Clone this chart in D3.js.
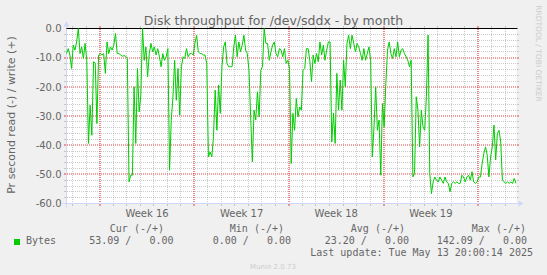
<!DOCTYPE html>
<html>
<head>
<meta charset="utf-8">
<script src="https://cdn.jsdelivr.net/npm/d3@7"></script>
<style>
  html, body { margin: 0; padding: 0; background: #f0f0f0; }
  svg { display: block; }
  text { font-family: "DejaVu Sans", sans-serif; fill: #666666; }
  .mono { font-family: "DejaVu Sans Mono", monospace; white-space: pre; }
</style>
</head>
<body>
<div id="chart"></div>
<script>
// time span of the graph (munin "by month")
const startTime = new Date(2025, 3, 10, 13, 0, 14)
const endTime = new Date(2025, 4, 13, 20, 0, 14)
const stepHours = 3

// read rate (drawn negative), one value every 3 hours from startTime
const readValues = [
  -8.6, -6.9, -9.1, -13.7, -5.7, -7.4, -4.6, 0, -8.6, -6.3,
  -10.3, -5.1, -10.9, -39.4, -26.3, -36.6, -11.4, -11.8, -32.6, -9.1,
  -8.6, -9.1, -8.6, -15.4, -4.6, -8.6, -6.3, -7.4, -5.7, -1.7,
  -8.6, -8.6, -9.0, -9.5, -9.3, -9.5, -10.3, -52.6, -50.3, -50.3,
  -20, -39.4, -13.7, -28.6, -22.9, 0, -10.9, -6.3, -16.6, -8.6,
  -5.1, -8, -6.3, -9.1, -6.9, -9.7, -13.1, -8.6, -10.9, -9.7,
  -6.9, -48.6, -31.4, -23.4, -10.9, -24.6, -13.7, -29.7, -13.1, -9.7,
  -10.3, -6.9, -9.7, -8.6, -8.6, -9.1, -5.1, -2.3, -8, -8.6,
  -8.6, -9.1, -9.1, -12, -44, -42.3, -44, -37.1, -21.1, -34.9,
  -19.4, -29.1, -13.1, -6.3, -4.6, -12, -13.1, -13.1, -13.1, -6.3,
  -2.3, -9.7, -4.6, -8, -5.7, -2.3, -7.4, -8.6, -14.3, -30.3,
  -45.7, -28, -31.4, -21.7, -30.3, -14.3, -13.1, 0, -5.1, -5.1,
  -10.9, -8, -5.7, -4.6, -8.6, -9.7, -6.9, -7.4, -9.7, -6.9,
  -12, -10.9, -13.7, -46.3, -29.1, -34.9, -24, -30.3, -26.9, -28,
  -14.3, -13.7, -6.9, -6.9, -10.9, -18.3, -9.1, -12, -8.6, -11.4,
  -4.6, -9.1, -5.7, -10.9, -7.4, -4.6, -4.6, -38.9, -29.1, -39.4,
  -15.4, -28, -17.7, -28, -10.9, -20, -5.1, -2.3, -6.9, -2.3,
  -5.1, -8, -5.1, -6.3, -8.6, -10.9, -6.9, -10.9, -8.6, -6.3,
  -10.9, -44, -33.7, -20, -34.9, -31.4, -50.3, -25.7, -33.7, -18.9,
  -7.4, -4.6, -8.6, -10.3, -6.9, -9.7, -4.6, -9.7, -7.4, -6.9,
  -8.6, -9.7, -10.9, -13.1, -10.9, -50.9, -49.7, -23.4, -28, -40.6,
  -28, -33.7, -34.9, -23.4, -2.3, -49.7, -56.6, -52.6, -50.9, -52,
  -52.6, -50.9, -52, -53.1, -50.9, -52.6, -53.1, -56, -53.1, -52.6,
  -53.1, -52.6, -53.1, -53.1, -50.3, -50.9, -52.6, -50.9, -50.3, -52,
  -49.1, -52.6, -53.1, -52.6, -50.9, -50.9, -46.3, -42.9, -40.6, -43.4,
  -50.9, -44, -40.6, -33.1, -45.1, -36, -34.9, -38.9, -52, -52.6,
  -53.1, -52.6, -53.1, -52.6, -53.1, -51.4, -53.09
]

const yTicks = [0, -10, -20, -30, -40, -50, -60]
const yTickLabels = ['0.0', '-10.0', '-20.0', '-30.0', '-40.0', '-50.0', '-60.0']
const weekLabels = ['Week 16', 'Week 17', 'Week 18', 'Week 19']

const legendName = 'Bytes'
const legendHeaders = ['Cur (-/+)', 'Min (-/+)', 'Avg (-/+)', 'Max (-/+)']
const legendValues = ['53.09 /   0.00', '0.00 /   0.00', '23.20 /   0.00', '142.09 /   0.00']
const lastUpdate = 'Last update: Tue May 13 20:00:14 2025'

const title = 'Disk throughput for /dev/sddx - by month'
const yTitle = 'Pr second read (-) / write (+)'

const W = 547, H = 275
const X0 = 66.5, X1 = 516.5, YT = 28.5, YB = 203.5

const svg = d3.select('#chart').append('svg')
  .attr('width', W).attr('height', H)

svg.append('rect').attr('width', W).attr('height', H).attr('fill', '#f0f0f0')
svg.append('rect').attr('x', X0).attr('y', YT).attr('width', X1 - X0).attr('height', YB - YT).attr('fill', '#ffffff')

const x = d3.scaleTime().domain([startTime, endTime]).range([X0, X1])
const y = d3.scaleLinear().domain([-60, 0]).range([YB, YT])

// minor lines sit on pixel centres, major lines on pixel edges (soft 2px dots like rrdtool)
const snapMinor = v => Math.floor(v) + 0.5
const snapMajor = v => Math.round(v)
const gridColor = 'rgba(143,143,143,0.45)'
const mgridColor = '#e04040'

const grid = svg.append('g')
const minorY = d3.range(-58, 0, 2).filter(v => v % 10 !== 0)
const majorY = yTicks.filter(v => v !== 0 && v !== -60)

// horizontal grid, dotted, with short solid ticks outside the plot
function hLine(v, color, snap, width) {
  const yy = snap(y(v))
  grid.append('line').attr('x1', 67).attr('x2', 516).attr('y1', yy).attr('y2', yy)
    .attr('stroke', color).attr('stroke-width', width).attr('stroke-dasharray', '1,1')
  grid.append('line').attr('x1', 64).attr('x2', 66).attr('y1', yy).attr('y2', yy).attr('stroke', color)
  grid.append('line').attr('x1', 517).attr('x2', 519).attr('y1', yy).attr('y2', yy).attr('stroke', color)
}
minorY.forEach(v => hLine(v, gridColor, snapMinor, 1))
majorY.forEach(v => hLine(v, mgridColor, snapMajor, 1.2))

// vertical grid: days and weeks (weeks start on Sunday)
const sundays = d3.timeSunday.range(startTime, endTime)
const days = d3.timeDay.range(startTime, endTime).filter(d => d.getDay() !== 0)

function vLine(d, color, snap, width) {
  const xx = snap(x(d))
  grid.append('line').attr('x1', xx).attr('x2', xx).attr('y1', 29).attr('y2', 203)
    .attr('stroke', color).attr('stroke-width', width).attr('stroke-dasharray', '1,1')
  grid.append('line').attr('x1', xx).attr('x2', xx).attr('y1', 204).attr('y2', 206).attr('stroke', color)
  grid.append('line').attr('x1', xx).attr('x2', xx).attr('y1', 26).attr('y2', 28).attr('stroke', color)
}
days.forEach(d => vLine(d, gridColor, snapMinor, 1))
sundays.forEach(d => vLine(d, mgridColor, snapMajor, 1.2))

// axes with arrows
const axisColor = '#CFD6F8'
svg.append('line').attr('x1', X0 - 4).attr('x2', X1 + 4).attr('y1', YB).attr('y2', YB)
  .attr('stroke', axisColor)
svg.append('line').attr('x1', X0).attr('x2', X0).attr('y1', YB + 4).attr('y2', YT - 4)
  .attr('stroke', axisColor)
svg.append('path').attr('d', `M${X1 + 2},${YB - 3}L${X1 + 2},${YB + 3}L${X1 + 7},${YB}Z`).attr('fill', axisColor)
svg.append('path').attr('d', `M${X0 - 3},${YT - 2}L${X0 + 3},${YT - 2}L${X0},${YT - 7}Z`).attr('fill', axisColor)

// zero rule
svg.append('line').attr('x1', X0).attr('x2', X1 + 1).attr('y1', YT).attr('y2', YT)
  .attr('stroke', '#000000')

// data line
const line = d3.line()
  .x((d, i) => x(d3.timeHour.offset(startTime, i * stepHours)))
  .y(d => y(d))

svg.append('path').datum(readValues)
  .attr('d', line)
  .attr('fill', 'none')
  .attr('stroke', '#00CC00')
  .attr('stroke-width', 1)

// y axis labels
const yAxis = d3.axisLeft(y).tickValues(yTicks).tickSize(0).tickPadding(0)
  .tickFormat((d, i) => yTickLabels[i])
svg.append('g').attr('transform', `translate(${X0 - 5},0)`).call(yAxis)
  .call(g => g.select('.domain').remove())
  .selectAll('text')
  .attr('font-family', '"DejaVu Sans", sans-serif')
  .attr('font-size', 10).attr('fill', '#666666')

// week labels, centred in each week
svg.append('g').selectAll('text')
  .data(weekLabels)
  .enter().append('text')
  .attr('x', (d, i) => x(d3.timeHour.offset(sundays[i], 84)))
  .attr('y', 216.5)
  .attr('text-anchor', 'middle')
  .attr('font-size', 10)
  .text(d => d)

// titles
svg.append('text').attr('x', 273.5).attr('y', 25).attr('text-anchor', 'middle')
  .attr('font-size', 12.5).text(title)
svg.append('text').attr('transform', 'translate(15,115) rotate(-90)').attr('text-anchor', 'middle')
  .attr('font-size', 11).text(yTitle)
svg.append('text').attr('transform', 'translate(535.5,53.5) rotate(90)').attr('text-anchor', 'middle')
  .attr('font-size', 7.5).style('fill', '#cccccc').text('RRDTOOL / TOBI OETIKER')

// legend
const headerRight = [164, 284, 405, 526]
const valueRight = [173.5, 291, 409, 527]
const legend = svg.append('g').attr('class', 'legend')
legend.selectAll('.hdr').data(legendHeaders).enter().append('text')
  .attr('class', 'mono hdr').attr('x', (d, i) => headerRight[i]).attr('y', 231.5)
  .attr('text-anchor', 'end').attr('font-size', 10).text(d => d)
legend.selectAll('.val').data(legendValues).enter().append('text')
  .attr('class', 'mono val').attr('x', (d, i) => valueRight[i]).attr('y', 243.5)
  .attr('text-anchor', 'end').attr('font-size', 10).text(d => d)
legend.append('rect').attr('x', 14).attr('y', 239).attr('width', 6).attr('height', 6).attr('fill', '#00CC00')
legend.append('text').attr('class', 'mono').attr('x', 26).attr('y', 243.5).attr('font-size', 10).text(legendName)
legend.append('text').attr('class', 'mono').attr('x', 533).attr('y', 255.7)
  .attr('text-anchor', 'end').attr('font-size', 10).text(lastUpdate)

svg.append('text').attr('x', 273).attr('y', 269).attr('text-anchor', 'middle')
  .attr('font-size', 7).style('fill', '#cccccc').text('Munin 2.0.73')
</script>
</body>
</html>
